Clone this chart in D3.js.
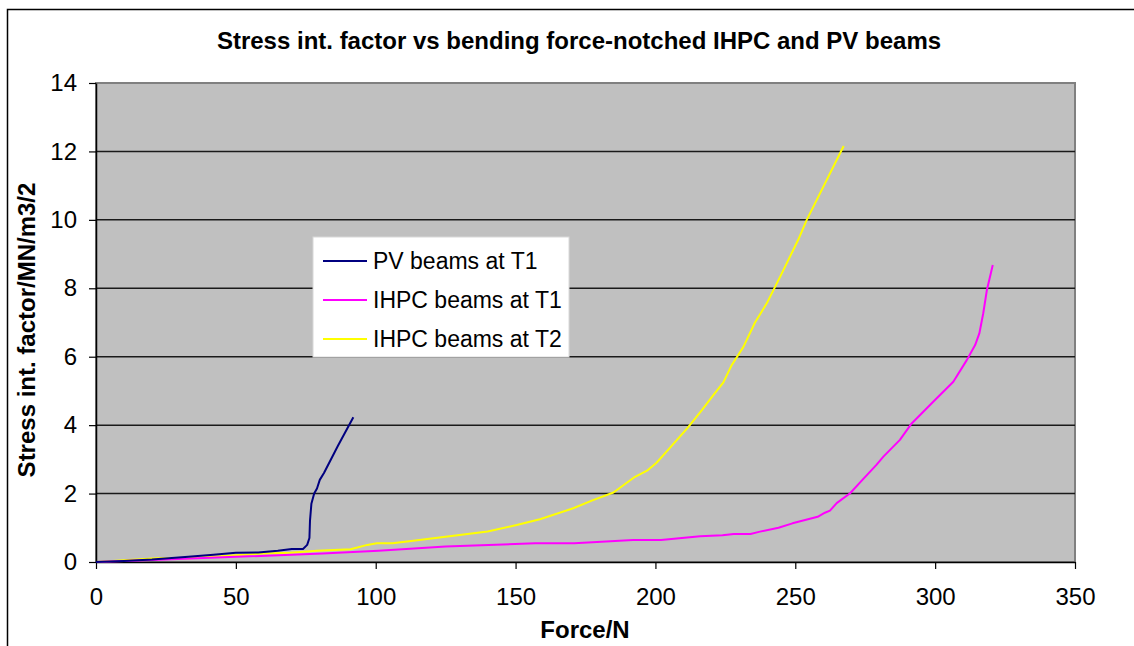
<!DOCTYPE html>
<html>
<head>
<meta charset="utf-8">
<script src="https://cdn.jsdelivr.net/npm/d3@7"></script>
<style>
  body { margin: 0; background: #fff; }
  svg { display: block; font-family: "Liberation Sans", Arial, sans-serif; }
</style>
</head>
<body>
<script>
// data: [force N, stress int. factor]
var pvT1 = [[0,0],[10,0.03],[20,0.07],[33,0.15],[42,0.21],[50,0.27],[58,0.28],[65,0.33],[70,0.38],[74,0.38],
  [75.5,0.5],[76.3,0.7],[76.5,1.2],[77,1.7],[78,2.0],[79,2.15],[80,2.4],[81.5,2.6],[86.5,3.4],[92,4.23]];

var ihpcT1 = [[0,0],[20,0.06],[50,0.15],[81,0.25],[101,0.33],[125,0.45],[157,0.55],[171,0.55],[192,0.64],[202,0.64],
  [216,0.75],[224,0.78],[228,0.82],[234,0.82],[237,0.88],[244,1.0],[249,1.13],[258,1.32],[260.6,1.44],[262.4,1.5],
  [264.8,1.72],[269.6,2.01],[274,2.4],[279,2.84],[281.5,3.08],[287.4,3.57],[291.6,4.05],[299.4,4.69],[306.5,5.27],
  [311.3,5.9],[314.3,6.34],[315.8,6.68],[317.2,7.27],[318.5,7.95],[320.6,8.68]];

var ihpcT2 = [[0,0],[10,0.05],[21.7,0.11],[33.6,0.11],[50,0.2],[60,0.25],[69.4,0.27],[79,0.33],[91,0.37],[97,0.5],
  [100.4,0.55],[106,0.55],[113.4,0.62],[130,0.79],[140,0.89],[150.4,1.08],[158.7,1.25],[170.6,1.57],[177.7,1.81],
  [185,2.03],[192.7,2.49],[197,2.67],[200.4,2.9],[205,3.32],[211.5,3.92],[216.6,4.44],[220.7,4.88],[224.3,5.25],
  [227.3,5.76],[231.4,6.28],[235.6,7.0],[239.8,7.56],[244.6,8.34],[251,9.41],[254.1,10.0],[267.3,12.16]];

var seriesNames = ["PV beams at T1", "IHPC beams at T1", "IHPC beams at T2"];
var seriesColors = ["#000080", "#FF00FF", "#FFFF00"];
var xTicks = [0, 50, 100, 150, 200, 250, 300, 350];
var yTicks = [0, 2, 4, 6, 8, 10, 12, 14];

var W = 1134, H = 646;
var plot = {left: 96, right: 1075, top: 83, bottom: 562};

var svg = d3.select("body").append("svg")
    .attr("width", W)
    .attr("height", H);

// chart frame
svg.append("rect")
    .attr("x", 7.5).attr("y", 9.5)
    .attr("width", W).attr("height", H)
    .attr("fill", "#fff")
    .attr("stroke", "#000")
    .attr("stroke-width", 1.5);

var x = d3.scaleLinear().domain([0, 350]).range([plot.left, plot.right]);
var y = d3.scaleLinear().domain([0, 14]).range([plot.bottom, plot.top]);

// plot area
svg.append("rect")
    .attr("x", plot.left).attr("y", plot.top)
    .attr("width", plot.right - plot.left)
    .attr("height", plot.bottom - plot.top)
    .attr("fill", "#C0C0C0")
    .attr("stroke", "#808080")
    .attr("stroke-width", 2);

// gridlines
svg.append("g")
    .selectAll("line")
    .data(yTicks.filter(d => d > 0 && d < 14))
    .enter().append("line")
    .attr("x1", plot.left).attr("x2", plot.right)
    .attr("y1", d => y(d)).attr("y2", d => y(d))
    .attr("stroke", "#1a1a1a")
    .attr("stroke-width", 1.5);

// axes
var xAxis = svg.append("g")
    .attr("transform", "translate(0," + plot.bottom + ")")
    .call(d3.axisBottom(x).tickValues(xTicks).tickSize(7).tickPadding(19).tickSizeOuter(0));
var yAxis = svg.append("g")
    .attr("transform", "translate(" + plot.left + ",0)")
    .call(d3.axisLeft(y).tickValues(yTicks).tickSize(7).tickPadding(12).tickSizeOuter(0));

[xAxis, yAxis].forEach(function (a) {
    a.select(".domain").attr("stroke", "#000").attr("stroke-width", 1.5);
    a.selectAll(".tick line").attr("stroke", "#000").attr("stroke-width", 1.2);
    a.selectAll("text")
        .attr("fill", "#000")
        .style("font-size", "24px")
        .style("font-family", "'Liberation Sans', Arial, sans-serif");
});

// lines
var line = d3.line().x(d => x(d[0])).y(d => y(d[1]));
var allSeries = [ihpcT2, ihpcT1, pvT1];
var allColors = [seriesColors[2], seriesColors[1], seriesColors[0]];
svg.append("g")
    .selectAll("path")
    .data(allSeries)
    .enter().append("path")
    .attr("d", line)
    .attr("fill", "none")
    .attr("stroke", (d, i) => allColors[i])
    .attr("stroke-width", 2)
    .attr("stroke-linejoin", "round");

// title
svg.append("text")
    .attr("x", 579).attr("y", 49)
    .attr("text-anchor", "middle")
    .attr("font-size", "24px")
    .attr("font-weight", "bold")
    .text("Stress int. factor vs bending force-notched IHPC and PV beams");

// axis titles
svg.append("text")
    .attr("x", 585).attr("y", 638)
    .attr("text-anchor", "middle")
    .attr("font-size", "24px")
    .attr("font-weight", "bold")
    .text("Force/N");

svg.append("text")
    .attr("transform", "translate(35,330) rotate(-90)")
    .attr("text-anchor", "middle")
    .attr("font-size", "24px")
    .attr("font-weight", "bold")
    .text("Stress int. factor/MN/m3/2");

// legend
var legend = svg.append("g").attr("transform", "translate(313,237)");
legend.append("rect")
    .attr("width", 256).attr("height", 120)
    .attr("fill", "#fff")
    .attr("stroke", "#d8d8d8");

var item = legend.selectAll(".item")
    .data(seriesNames)
    .enter().append("g")
    .attr("class", "item")
    .attr("transform", (d, i) => "translate(0," + (24 + i * 39) + ")");

item.append("line")
    .attr("x1", 10).attr("x2", 54)
    .attr("stroke", (d, i) => seriesColors[i])
    .attr("stroke-width", 2);

item.append("text")
    .attr("x", 60).attr("dy", "0.35em")
    .attr("font-size", "23px")
    .text(d => d);
</script>
</body>
</html>
